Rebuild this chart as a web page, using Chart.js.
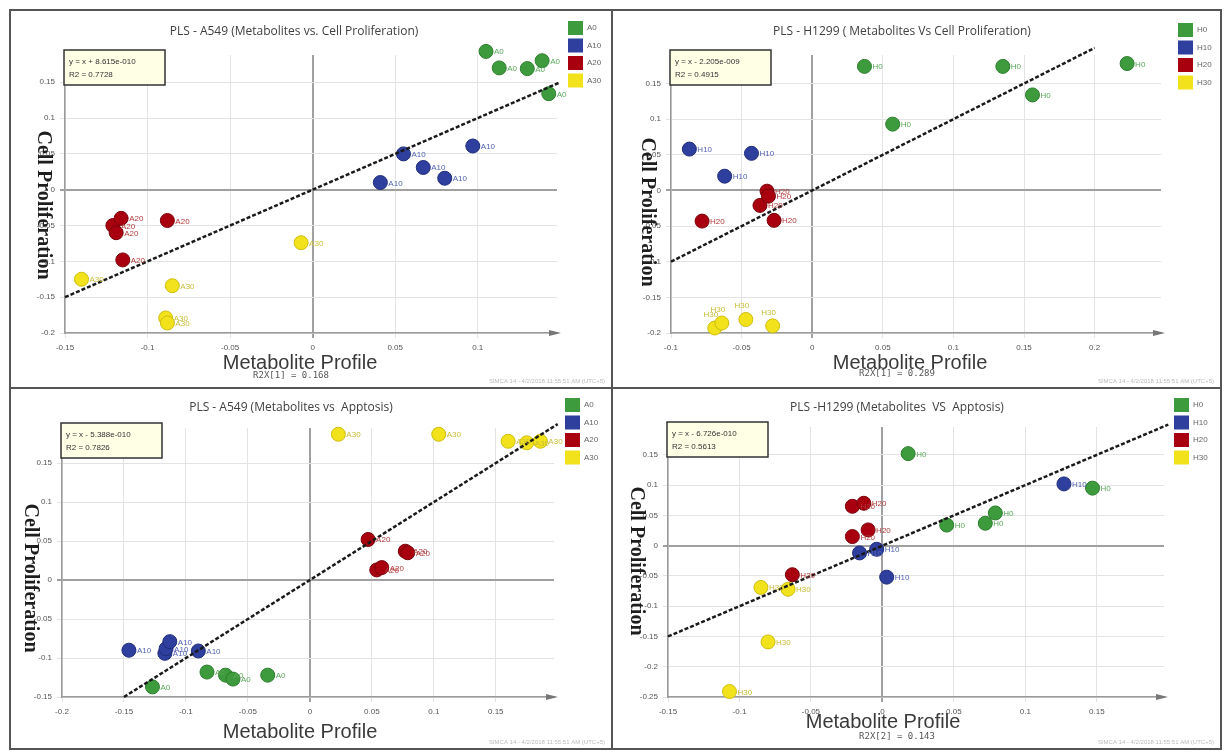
<!DOCTYPE html>
<html>
<head>
<meta charset="utf-8">
<script src="https://cdn.jsdelivr.net/npm/chart.js@4"></script>
<style>
  body { margin: 0; background: #fff; width: 1225px; height: 752px; position: relative; overflow: hidden; }
  .panel { position: absolute; box-sizing: border-box; border: 2px solid #555; background: #fff; }
  .panel canvas { display: block; }
</style>
</head>
<body>
<div class="panel" style="left:9px;top:9px;width:604px;height:380px"><canvas id="c1"></canvas></div>
<div class="panel" style="left:611px;top:9px;width:611px;height:380px"><canvas id="c2"></canvas></div>
<div class="panel" style="left:9px;top:387px;width:604px;height:363px"><canvas id="c3"></canvas></div>
<div class="panel" style="left:611px;top:387px;width:611px;height:363px"><canvas id="c4"></canvas></div>
<script>
// group names
const a549Groups = ["A0", "A10", "A20", "A30"];
const h1299Groups = ["H0", "H10", "H20", "H30"];

// A549 - metabolites vs cell proliferation  [x, y]
const a549ProA0 = [[0.105, 0.193], [0.113, 0.170], [0.130, 0.169], [0.139, 0.180], [0.143, 0.134]];
const a549ProA10 = [[0.041, 0.010], [0.055, 0.050], [0.067, 0.031], [0.080, 0.016], [0.097, 0.061]];
const a549ProA20 = [[-0.121, -0.050], [-0.119, -0.060], [-0.116, -0.040], [-0.115, -0.098], [-0.088, -0.043]];
const a549ProA30 = [[-0.140, -0.125], [-0.089, -0.179], [-0.088, -0.186], [-0.085, -0.134], [-0.007, -0.074]];

// H1299 - metabolites vs cell proliferation
const h1299ProH0 = [[0.037, 0.174], [0.057, 0.093], [0.135, 0.174], [0.156, 0.134], [0.223, 0.178]];
const h1299ProH10 = [[-0.087, 0.058], [-0.062, 0.020], [-0.043, 0.052]];
const h1299ProH20 = [[-0.078, -0.043], [-0.037, -0.021], [-0.032, -0.001], [-0.031, -0.008], [-0.027, -0.042]];
const h1299ProH30 = [[-0.069, -0.193], [-0.064, -0.186], [-0.047, -0.181], [-0.028, -0.190]];

// A549 - metabolites vs apoptosis
const a549ApoA0 = [[-0.127, -0.137], [-0.083, -0.118], [-0.068, -0.122], [-0.062, -0.127], [-0.034, -0.122]];
const a549ApoA10 = [[-0.146, -0.090], [-0.117, -0.094], [-0.116, -0.088], [-0.113, -0.079], [-0.090, -0.091]];
const a549ApoA20 = [[0.047, 0.052], [0.054, 0.013], [0.058, 0.016], [0.077, 0.037], [0.079, 0.035]];
const a549ApoA30 = [[0.023, 0.187], [0.104, 0.187], [0.160, 0.178], [0.175, 0.176], [0.186, 0.178]];

// H1299 - metabolites vs apoptosis
const h1299ApoH0 = [[0.018, 0.152], [0.045, 0.034], [0.072, 0.037], [0.079, 0.054], [0.147, 0.095]];
const h1299ApoH10 = [[-0.016, -0.012], [-0.004, -0.006], [0.003, -0.052], [0.127, 0.102]];
const h1299ApoH20 = [[-0.063, -0.048], [-0.021, 0.015], [-0.010, 0.026], [-0.021, 0.065], [-0.013, 0.070]];
const h1299ApoH30 = [[-0.107, -0.241], [-0.085, -0.069], [-0.080, -0.159], [-0.066, -0.072]];

// regression line ends (y = x)
const fit1 = [-0.15, 0.15];
const fit2 = [-0.10, 0.20];
const fit3 = [-0.15, 0.20];
const fit4 = [-0.15, 0.20];

const fill = ["#3d9b3d", "#2e3f9e", "#a8000f", "#f2e21b"];
const edge = ["#2c7d2c", "#1f2c7a", "#7a000a", "#cdbd10"];
const textCol = ["#5aa85a", "#5262b4", "#b23a3a", "#c9bc35"];

const pts = arr => arr.map(p => ({ x: p[0], y: p[1] }));
const onStep = v => Math.abs(v / 0.05 - Math.round(v / 0.05)) < 1e-6;

const decor = {
  id: "decor",
  afterDatasetsDraw(chart) {
    const ctx = chart.ctx;
    ctx.save();
    ctx.font = '8px "Liberation Sans"';
    chart.data.datasets.forEach((ds, i) => {
      if (!ds.pointLabel) return;
      ctx.fillStyle = ds.labelColor;
      chart.getDatasetMeta(i).data.forEach(el => {
        if (ds.labelPos === "above") {
          ctx.textAlign = "center";
          ctx.fillText(ds.pointLabel, el.x - 4, el.y - 11);
        } else {
          ctx.textAlign = "left";
          ctx.fillText(ds.pointLabel, el.x + 8, el.y + 3);
        }
      });
    });
    ctx.restore();
  },
  afterDraw(chart, args, o) {
    const ctx = chart.ctx;
    const a = chart.chartArea;
    ctx.save();
    // arrow on x axis
    ctx.fillStyle = "#777";
    ctx.beginPath();
    ctx.moveTo(a.right + 4, a.bottom);
    ctx.lineTo(a.right - 8, a.bottom - 3);
    ctx.lineTo(a.right - 8, a.bottom + 3);
    ctx.closePath();
    ctx.fill();
    // title
    ctx.fillStyle = "#404040";
    ctx.font = '12px "Open Sans"';
    ctx.textAlign = "center";
    ctx.textBaseline = "middle";
    ctx.fillText(o.title, o.titleX, o.titleY);
    // legend
    ctx.font = '8px "Liberation Sans"';
    ctx.textAlign = "left";
    o.groups.forEach((g, i) => {
      const y = o.legY + i * 17.5;
      ctx.fillStyle = fill[i];
      ctx.fillRect(o.legX, y - 7, 15, 14);
      ctx.fillStyle = "#666";
      ctx.fillText(g, o.legX + 19, y);
    });
    // equation box
    const bx = a.left - 1, by = a.top - 5;
    ctx.fillStyle = "#ffffe6";
    ctx.fillRect(bx, by, 101, 35);
    ctx.strokeStyle = "#333";
    ctx.lineWidth = 1.5;
    ctx.strokeRect(bx, by, 101, 35);
    ctx.fillStyle = "#333";
    ctx.font = '8px "Liberation Sans"';
    ctx.fillText(o.eq[0], bx + 5, by + 12);
    ctx.fillText(o.eq[1], bx + 5, by + 25);
    // axis titles
    ctx.fillStyle = "#3a3a3a";
    ctx.font = '20px "Liberation Sans"';
    ctx.textAlign = "center";
    ctx.fillText("Metabolite Profile", o.xTitleX, o.xTitleY);
    if (o.sub) {
      ctx.font = '9px "DejaVu Sans Mono"';
      ctx.fillStyle = "#555";
      ctx.fillText(o.sub, o.subX, o.subY);
    }
    ctx.save();
    ctx.translate(o.yTitleX, o.yTitleY);
    ctx.rotate(Math.PI / 2);
    ctx.fillStyle = "#1e1e1e";
    ctx.font = 'bold 20px "Liberation Serif"';
    ctx.fillText("Cell Proliferation", 0, 0);
    ctx.restore();
    // faint stamp
    ctx.fillStyle = "#bbb";
    ctx.font = '6px "Liberation Sans"';
    ctx.textAlign = "right";
    ctx.fillText("SIMCA 14 - 4/2/2018 11:55:51 AM (UTC+5)", chart.width - 6, chart.height - 6);
    ctx.restore();
  }
};

function makeChart(id, groups, series, fit, cfg) {
  const datasets = [{
    type: "line",
    data: [{ x: fit[0], y: fit[0] }, { x: fit[1], y: fit[1] }],
    borderColor: "#1a1a1a",
    borderWidth: 2.5,
    borderDash: [4, 2],
    pointRadius: 0,
    order: 0,
    clip: false
  }];
  series.forEach((s, i) => {
    datasets.push({
      type: "scatter",
      data: pts(s),
      pointLabel: groups[i],
      labelColor: textCol[i],
      labelPos: (cfg.labelAbove || []).includes(i) ? "above" : "right",
      backgroundColor: fill[i],
      borderColor: edge[i],
      borderWidth: 1,
      pointRadius: 7,
      order: 1,
      clip: false
    });
  });
  const isZero = c => c.tick && Math.abs(c.tick.value) < 1e-9;
  const gridCol = c => {
    if (!c.tick || !onStep(c.tick.value)) return "rgba(0,0,0,0)";
    return isZero(c) ? "#a0a0a0" : "#e3e3e3";
  };
  const axis = (min, max, fit) => ({
    type: "linear",
    min: min,
    max: max,
    afterFit: fit,
    border: { color: "#9a9a9a", width: 1.5 },
    grid: {
      color: gridCol,
      lineWidth: c => isZero(c) ? 2 : 1,
      tickLength: 5
    },
    ticks: {
      stepSize: 0.05,
      includeBounds: true,
      color: "#555",
      padding: 5,
      font: { family: "Liberation Sans", size: 8 },
      callback: v => onStep(v) ? String(Math.round(v * 1000) / 1000) : ""
    }
  });
  return new Chart(document.getElementById(id), {
    data: { datasets: datasets },
    plugins: [decor],
    options: {
      responsive: true,
      maintainAspectRatio: false,
      animation: false,
      layout: { autoPadding: false, padding: { left: 0, top: cfg.top, right: cfg.right, bottom: 0 } },
      scales: {
        x: axis(cfg.x[0], cfg.x[1], s => { s.height = cfg.xH; }),
        y: axis(cfg.y[0], cfg.y[1], s => { s.width = cfg.yW; })
      },
      plugins: {
        legend: { display: false },
        tooltip: { enabled: false },
        decor: cfg.decor
      }
    }
  });
}

makeChart("c1", a549Groups, [a549ProA0, a549ProA10, a549ProA20, a549ProA30], fit1, {
  x: [-0.15, 0.148], y: [-0.2, 0.188], top: 44, right: 54, yW: 54, xH: 54,
  decor: {
    title: "PLS - A549 (Metabolites vs. Cell Proliferation)", titleX: 283, titleY: 21,
    groups: a549Groups, legX: 557, legY: 17,
    eq: ["y = x + 8.615e-010", "R2 = 0.7728"],
    xTitleX: 289, xTitleY: 352, sub: "R2X[1] = 0.168", subX: 280, subY: 365,
    yTitleX: 32, yTitleY: 194
  }
});

makeChart("c2", h1299Groups, [h1299ProH0, h1299ProH10, h1299ProH20, h1299ProH30], fit2, {
  x: [-0.1, 0.247], y: [-0.2, 0.19], top: 44, right: 59, yW: 58, xH: 54, labelAbove: [3],
  decor: {
    title: "PLS - H1299 ( Metabolites Vs Cell Proliferation)", titleX: 289, titleY: 21,
    groups: h1299Groups, legX: 565, legY: 19,
    eq: ["y = x - 2.205e-009", "R2 = 0.4915"],
    xTitleX: 297, xTitleY: 352, sub: "R2X[1] = 0.289", subX: 284, subY: 363,
    yTitleX: 34, yTitleY: 201
  }
});

makeChart("c3", a549Groups, [a549ApoA0, a549ApoA10, a549ApoA20, a549ApoA30], fit3, {
  x: [-0.2, 0.197], y: [-0.15, 0.195], top: 39, right: 57, yW: 51, xH: 51,
  decor: {
    title: "PLS - A549 (Metabolites vs  Apptosis)", titleX: 280, titleY: 19,
    groups: a549Groups, legX: 554, legY: 16,
    eq: ["y = x - 5.388e-010", "R2 = 0.7826"],
    xTitleX: 289, xTitleY: 343, sub: null,
    yTitleX: 19, yTitleY: 189
  }
});

makeChart("c4", h1299Groups, [h1299ApoH0, h1299ApoH10, h1299ApoH20, h1299ApoH30], fit4, {
  x: [-0.15, 0.197], y: [-0.25, 0.196], top: 38, right: 56, yW: 55, xH: 51,
  decor: {
    title: "PLS -H1299 (Metabolites  VS  Apptosis)", titleX: 284, titleY: 19,
    groups: h1299Groups, legX: 561, legY: 16,
    eq: ["y = x - 6.726e-010", "R2 = 0.5613"],
    xTitleX: 270, xTitleY: 333, sub: "R2X[2] = 0.143", subX: 284, subY: 348,
    yTitleX: 23, yTitleY: 172
  }
});
</script>
</body>
</html>
